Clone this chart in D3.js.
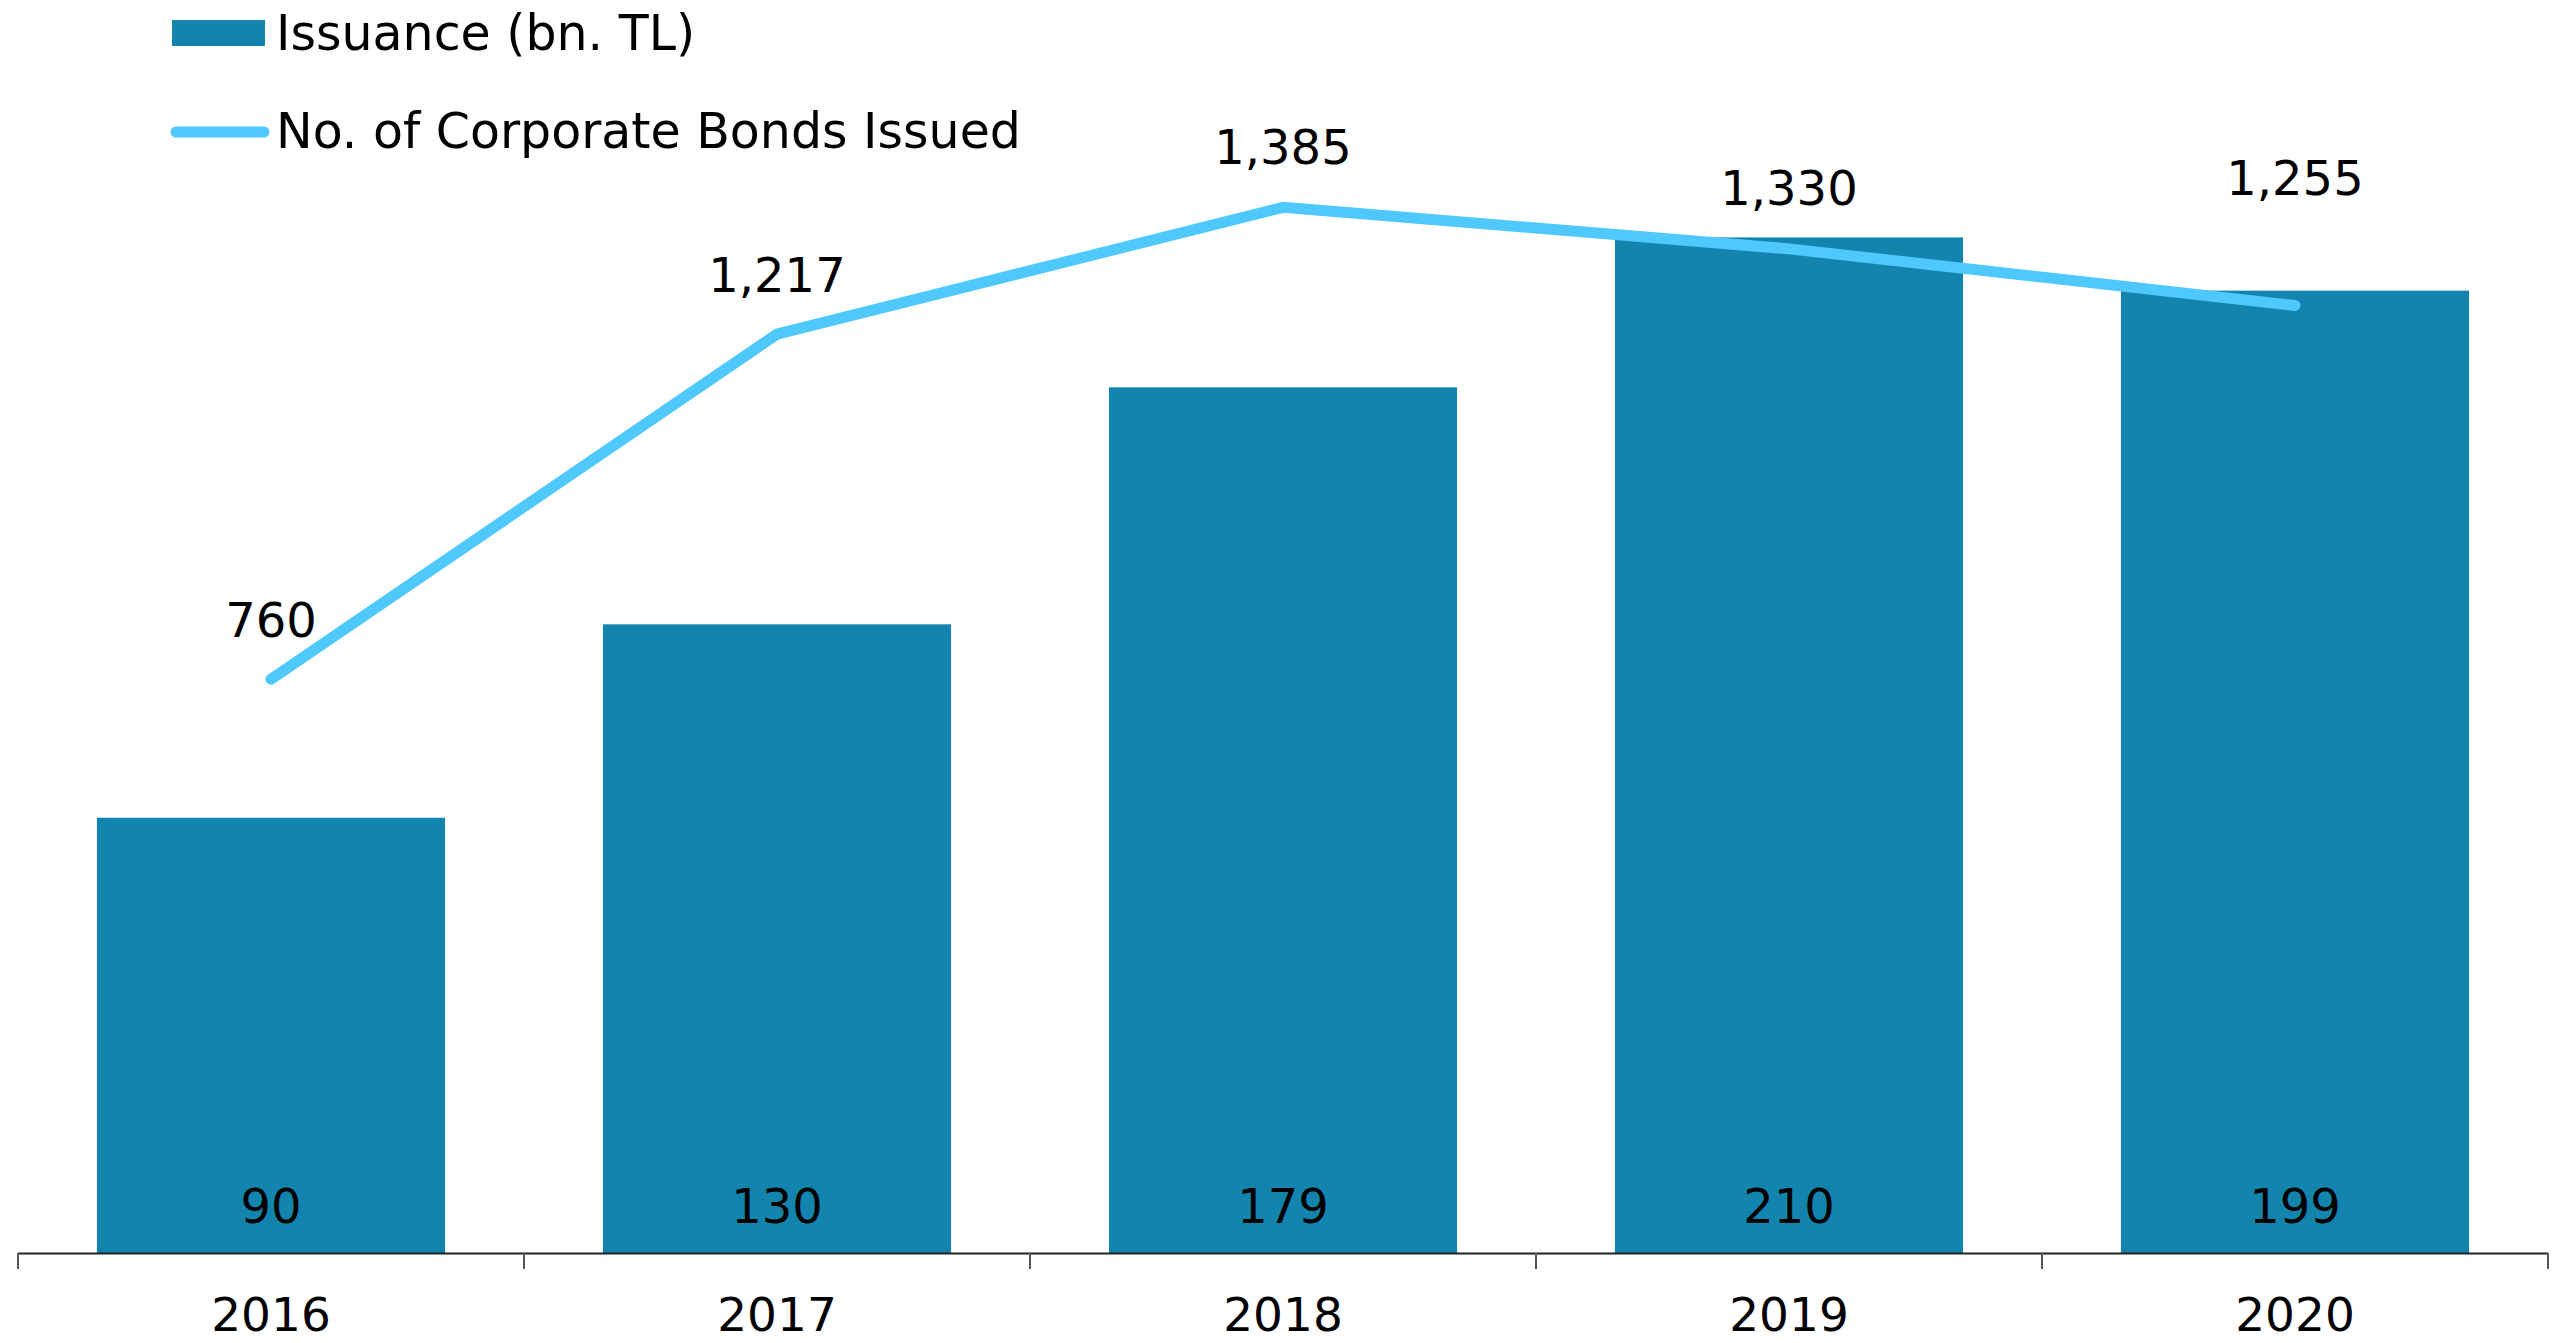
<!DOCTYPE html>
<html>
<head>
<meta charset="utf-8">
<script src="https://cdn.jsdelivr.net/npm/d3@7"></script>
<style>
  html, body { margin: 0; padding: 0; background: #fff; overflow: hidden; }
  svg { display: block; }
  text { font-family: "DejaVu Sans", Verdana, sans-serif; fill: #000; }
</style>
</head>
<body>
<div id="chart"></div>
<script>
const years = ["2016", "2017", "2018", "2019", "2020"];
const issuance = [90, 130, 179, 210, 199];
const bondCount = [760, 1217, 1385, 1330, 1255];
const seriesNames = ["Issuance (bn. TL)", "No. of Corporate Bonds Issued"];

const width = 2575;
const height = 1343;
const barColor = "#1384ad";
const lineColor = "#4fc8fe";

const svg = d3
  .select("#chart")
  .append("svg")
  .attr("width", width)
  .attr("height", height);

const x = d3
  .scaleBand()
  .domain(years)
  .range([18, 2548])
  .paddingInner(0.312)
  .paddingOuter(0.156);

// both series share the baseline, each with its own max
const y = d3.scaleLinear().domain([0, 250]).range([1253, 44]);
const y2 = d3.scaleLinear().domain([0, 1600]).range([1253, 45]);

const xCenter = (d) => x(d) + x.bandwidth() / 2;

// bars
svg
  .append("g")
  .selectAll("rect")
  .data(years)
  .enter()
  .append("rect")
  .attr("x", (d) => x(d))
  .attr("y", (d, i) => y(issuance[i]))
  .attr("width", x.bandwidth())
  .attr("height", (d, i) => y(0) - y(issuance[i]))
  .attr("fill", barColor);

// bar value labels, sitting near the bottom of each bar
svg
  .append("g")
  .selectAll("text")
  .data(years)
  .enter()
  .append("text")
  .attr("x", xCenter)
  .attr("y", y(0) - 30)
  .attr("text-anchor", "middle")
  .style("font-size", "48px")
  .text((d, i) => issuance[i]);

// x axis: baseline with ticks on the band edges
const axis = svg.append("g");
axis
  .append("line")
  .attr("x1", x.range()[0])
  .attr("x2", x.range()[1])
  .attr("y1", y(0) + 0.5)
  .attr("y2", y(0) + 0.5)
  .attr("stroke", "#222")
  .attr("stroke-width", 2);

const step = x.step();
const edges = d3.range(years.length + 1).map((i) => x.range()[0] + i * step);
axis
  .selectAll(".tick")
  .data(edges)
  .enter()
  .append("line")
  .attr("class", "tick")
  .attr("x1", (d) => d)
  .attr("x2", (d) => d)
  .attr("y1", y(0))
  .attr("y2", y(0) + 16)
  .attr("stroke", "#555")
  .attr("stroke-width", 2);

axis
  .selectAll(".year")
  .data(years)
  .enter()
  .append("text")
  .attr("class", "year")
  .attr("x", xCenter)
  .attr("y", 1331)
  .attr("text-anchor", "middle")
  .style("font-size", "47px")
  .text((d) => d);

// line series
const line = d3
  .line()
  .x((d, i) => xCenter(years[i]))
  .y((d) => y2(d));

svg
  .append("path")
  .datum(bondCount)
  .attr("d", line)
  .attr("fill", "none")
  .attr("stroke", lineColor)
  .attr("stroke-width", 11)
  .attr("stroke-linecap", "round")
  .attr("stroke-linejoin", "round");

// line labels; the last one is lifted clear of the bar
const labelLift = [42, 42, 43, 44, 110];
svg
  .append("g")
  .selectAll("text")
  .data(bondCount)
  .enter()
  .append("text")
  .attr("x", (d, i) => xCenter(years[i]))
  .attr("y", (d, i) => y2(d) - labelLift[i])
  .attr("text-anchor", "middle")
  .style("font-size", "48px")
  .text((d) => d3.format(",")(d));

// legend
const legend = svg.append("g");
legend
  .append("rect")
  .attr("x", 172)
  .attr("y", 20)
  .attr("width", 93)
  .attr("height", 26)
  .attr("fill", barColor);
legend
  .append("text")
  .attr("x", 276)
  .attr("y", 50)
  .style("font-size", "49px")
  .text(seriesNames[0]);
legend
  .append("line")
  .attr("x1", 176)
  .attr("x2", 264)
  .attr("y1", 132)
  .attr("y2", 132)
  .attr("stroke", lineColor)
  .attr("stroke-width", 11)
  .attr("stroke-linecap", "round");
legend
  .append("text")
  .attr("x", 276)
  .attr("y", 148)
  .style("font-size", "49px")
  .text(seriesNames[1]);
</script>
</body>
</html>
